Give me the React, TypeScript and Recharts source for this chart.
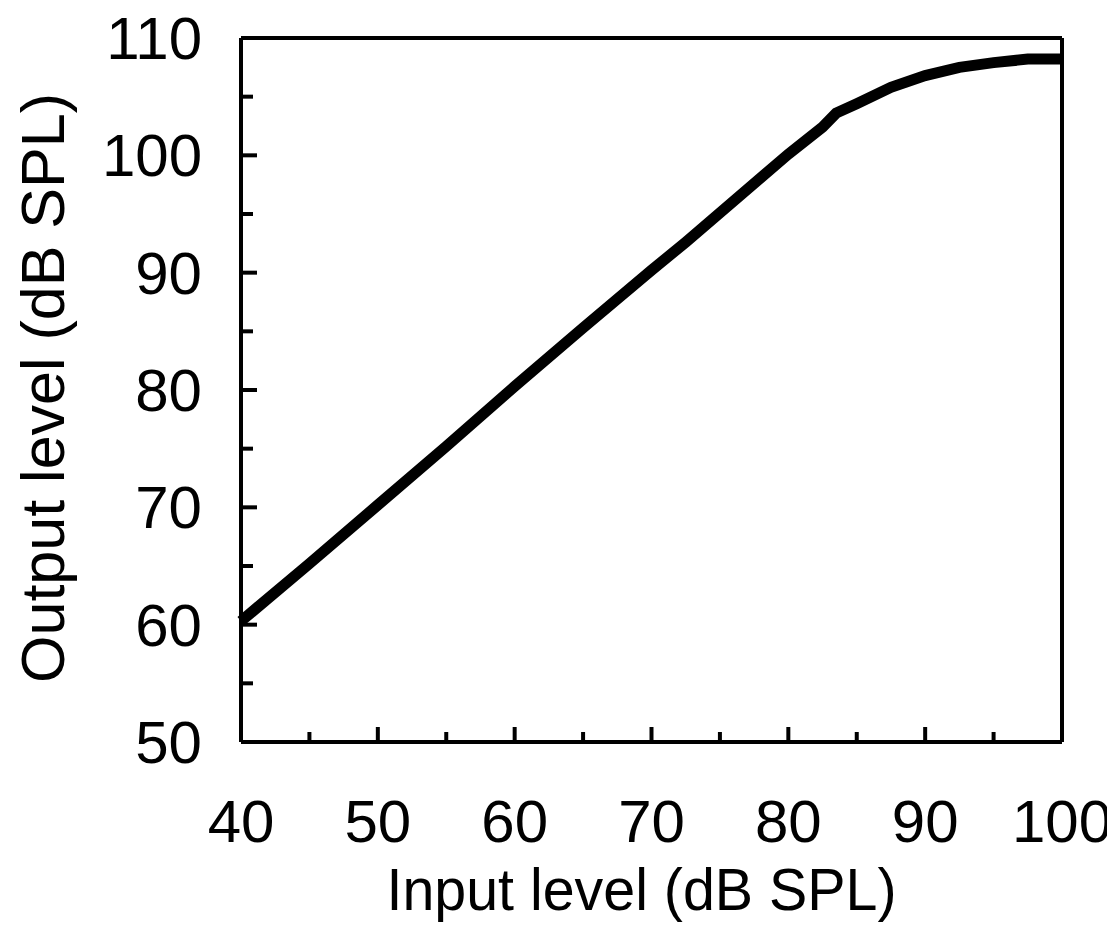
import React from 'react';
import { LineChart, Line, XAxis, YAxis, ReferenceLine } from 'recharts';

// input level (dB SPL) and measured output level (dB SPL)
const inputLevels = [40, 45, 50, 55, 60, 65, 70, 72.5, 80, 82.5, 83.5, 85, 87.5, 90, 92.5, 95, 97.5, 100];
const outputLevels = [60.3, 65.2, 70.2, 75.2, 80.3, 85.3, 90.2, 92.6, 100.1, 102.4, 103.6, 104.4, 105.8, 106.8, 107.5, 107.9, 108.2, 108.2];

const xTicks = [40, 45, 50, 55, 60, 65, 70, 75, 80, 85, 90, 95, 100];
const yTicks = [50, 55, 60, 65, 70, 75, 80, 85, 90, 95, 100, 105, 110];

const FONT = '"Liberation Sans", Arial, sans-serif';

const data = inputLevels.map((x, i) => ({ input: x, output: outputLevels[i] }));

const XTick = (props: any) => {
    const { x, y, payload } = props;
    const major = payload.value % 10 === 0;
    return (
        <g>
            <line x1={x} y1={y} x2={x} y2={y - (major ? 15 : 10)} stroke="#000" strokeWidth={4} />
            {major && (
                <text x={x} y={y + 100} textAnchor="middle" fontSize={60} fontFamily={FONT} fill="#000">
                    {payload.value}
                </text>
            )}
        </g>
    );
};

const YTick = (props: any) => {
    const { x, y, payload } = props;
    const major = payload.value % 10 === 0;
    return (
        <g>
            <line x1={x} y1={y} x2={x + (major ? 16 : 12)} y2={y} stroke="#000" strokeWidth={4} />
            {major && (
                <text x={x - 39} y={y + 21} textAnchor="end" fontSize={60} fontFamily={FONT} fill="#000">
                    {payload.value}
                </text>
            )}
        </g>
    );
};

const XTitle = (props: any) => {
    const { viewBox } = props;
    const cx = viewBox.x + viewBox.width / 2 - 10;
    return (
        <text x={cx} y={902} textAnchor="middle" fontSize={60} fontFamily={FONT} fill="#000"
            textLength={510} lengthAdjust="spacingAndGlyphs">
            Input level (dB SPL)
        </text>
    );
};

const YTitle = () => (
    <text x={0} y={0} transform="translate(56, 380) rotate(-90)" textAnchor="middle" fontSize={62}
        fontFamily={FONT} fill="#000" textLength={590} lengthAdjust="spacingAndGlyphs">
        Output level (dB SPL)
    </text>
);

const App = () => {
    return (
        <LineChart width={1107} height={918} data={data} margin={{ top: 30, right: 53, bottom: 0, left: 0 }}>
            <XAxis
                dataKey="input"
                type="number"
                domain={[40, 100]}
                ticks={xTicks}
                height={184}
                tickSize={0}
                tickMargin={0}
                tickLine={false}
                tick={<XTick />}
                axisLine={{ stroke: '#000', strokeWidth: 4 }}
                label={<XTitle />}
                interval={0}
            />
            <YAxis
                type="number"
                domain={[50, 110]}
                ticks={yTicks}
                width={233}
                tickSize={0}
                tickMargin={0}
                tickLine={false}
                tick={<YTick />}
                axisLine={{ stroke: '#000', strokeWidth: 4 }}
                label={<YTitle />}
                interval={0}
            />
            <ReferenceLine y={110} stroke="#000" strokeWidth={4} />
            <ReferenceLine x={100} stroke="#000" strokeWidth={4} />
            <Line
                type="linear"
                dataKey="output"
                stroke="#000"
                strokeWidth={11}
                dot={false}
                isAnimationActive={false}
            />
        </LineChart>
    );
};

export default App;
